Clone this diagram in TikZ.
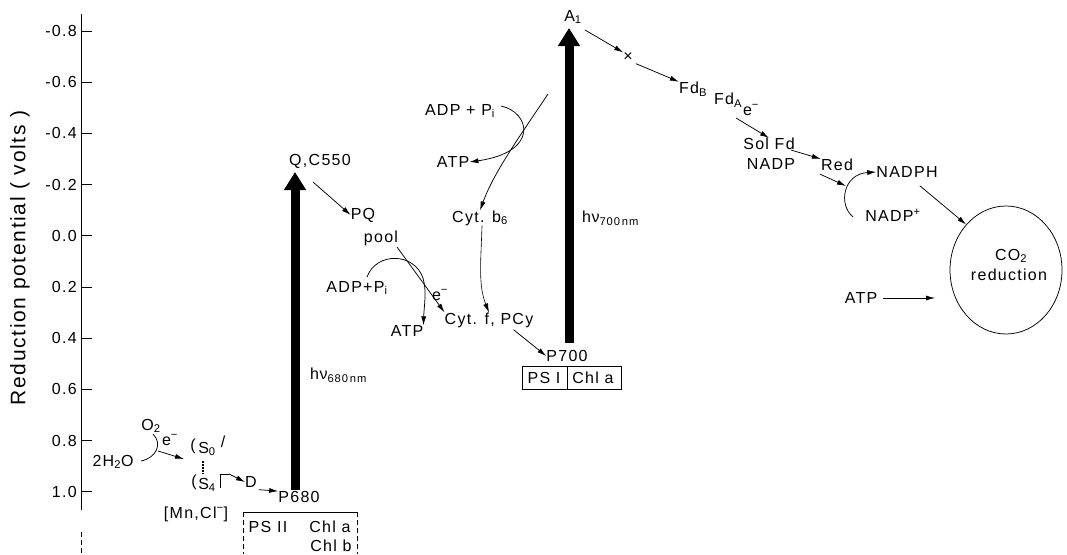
\documentclass[tikz,border=0pt]{standalone}
\usepackage{fontspec}
\setmainfont{Liberation Sans}[LetterSpace=8]
\usetikzlibrary{arrows.meta,shapes.geometric}
\begin{document}
\begin{tikzpicture}[x=1pt,y=-1pt,
  every node/.style={inner sep=0pt},
  font=\fontsize{16}{18}\selectfont,
  ln/.style={line width=0.75pt},
  arr/.style={line width=0.75pt,-{Latex[length=9pt,width=5pt]}},
  bigarr/.style={line width=9pt,-{Triangle[width=21pt,length=18pt]}},
  sidedash/.style={line width=0.75pt,dash pattern=on 5pt off 3pt}]
\useasboundingbox (0,0) rectangle (1067,554);

% axis
\draw[ln] (81,14) coordinate (axtop) -- (81,510) coordinate (axbot);
\draw[sidedash] (81,532) coordinate (axb2) -- (81,554) coordinate (axb3);
\foreach \t [count=\i from 0] in {-0.8,-0.6,-0.4,-0.2,0.0,0.2,0.4,0.6,0.8,1.0}{
  \pgfmathsetmacro\yy{31+51.2*\i}
  \draw[ln] (81,\yy) -- (92,\yy);
  \node[anchor=east,font=\fontsize{16}{18}\selectfont] (tl\i) at (77,\yy) {\t};
}
\node[rotate=90,font=\fontsize{21}{24}\selectfont] (ylab) at (20,258) {Reduction potential ( volts )};

% water splitting
\node (o2) at (151,426) {O\textsubscript{2}};
\node (h2o) at (113,462) {2H\textsubscript{2}O};
\coordinate (arcA) at (141,461);
\coordinate (arcB) at (153,434);
\draw[ln] (arcA) .. controls (156,458) and (163,444) .. (arcB);
\coordinate (e1s) at (158,451);
\coordinate (e1t) at (184,459);
\draw[arr] (e1s) -- (e1t);
\node (e1) at (170,440) {e\textsuperscript{−}};
\node (s0l) at (193,446) {(};
\node (s0) at (207,449) {S\textsubscript{0}};
\node (s0r) at (223,442) {/};
\node (s4l) at (194,482) {(};
\node (s4) at (207,485) {S\textsubscript{4}};
\draw[line width=1.3pt,dash pattern=on 1.5pt off 1.5pt] (203,461) -- (203,474);
\coordinate (brk) at (229,474);
\draw[ln] (220,488) -- (220,474) -- (brk);
\node (d) at (251,482) {D};
\draw[arr] (brk) -- (d.west);
\node (p680) at (299,497) {P680};
\draw[arr] (d.south east) ++(2,2) coordinate (dd) -- (p680.north west);
\node (mncl) at (196,514) {[Mn,Cl\textsuperscript{−}]};

% PS II box
\draw[ln] (243,512) coordinate (b2a) -- (357,512) coordinate (b2b);
\draw[sidedash] (b2a) -- (243,554);
\draw[sidedash] (b2b) -- (357,554);
\node (ps2) at (268,527) {PS II};
\node (chla2) at (330,527) {Chl a};
\node (chlb2) at (331,546) {Chl b};

% h nu 680
\coordinate (b680) at (295,490);
\coordinate (t680) at (295,172);
\draw[bigarr] (b680) -- (t680);
\node[anchor=west] (hv680) at (310,375) {h\kern0.5ptν\textsubscript{680\,nm}};
\node (qc) at (320,161) {Q,C550};

% PQ
\node (pq) at (363,215) {PQ};
\node (pool) at (381,238) {pool};
\draw[arr] (313,182) -- (pq.west);
\node (adp2) at (357,288) {ADP+P\textsubscript{i}};
\node (atp2) at (407,331) {ATP};
\node (e2) at (440,295) {e\textsuperscript{−}};
\node (cytf) at (489,320) {Cyt. f, PCy};
\draw[arr] (397,247) -- (cytf.north west);
\draw[arr] (367,277) .. controls (376,252) and (414,252) .. (423,278)
   .. controls (427,292) and (424,306) .. (atp2.north east);

% upper cyclic part
\node (adp1) at (460,111) {ADP + P\textsubscript{i}};
\node (atp1) at (453,162) {ATP};
\draw[arr] (501,106) .. controls (530,112) and (540,152) .. (atp1.east);
\node (cytb) at (480,218) {Cyt. b\textsubscript{6}};
\coordinate (cyc) at (548,94);
\draw[arr] (cyc) .. controls (520,136) and (494,172) .. (cytb.north);
\draw[arr,line width=0.6pt] (cytb.south) ++(2,0) coordinate (cb2) .. controls (481,260) and (478,285) .. (cytf.north);

% P700 and PS I
\node (p700) at (567,356) {P700};
\draw[arr] (cytf.south east) ++(-20,2) coordinate (cf2) -- (p700.west);
\draw[ln] (522,366) rectangle (621,389);
\draw[ln] (567,366) -- (567,389);
\node (ps1) at (544,378) {PS I};
\node (chla1) at (593,378) {Chl a};

% h nu 700
\coordinate (b700) at (569,343);
\coordinate (t700) at (569,28);
\draw[bigarr] (b700) -- (t700);
\node[anchor=west] (hv700) at (582,218) {h\kern0.5ptν\textsubscript{700\,nm}};
\node (a1) at (573,17) {A\textsubscript{1}};

% electron transport to NADP
\node (x) at (628,57) {×};
\draw[arr] (585,30) -- (x.north west);
\node (fdb) at (693,89) {Fd\textsubscript{B}};
\draw[arr] (x.south east) ++(3,2) coordinate (x2) -- (fdb.north west);
\node (fda) at (728,100) {Fd\textsubscript{A}};
\node (e3) at (751,110) {e\textsuperscript{−}};
\node (solfd) at (769,144) {Sol Fd};
\node (nadp) at (771,164) {NADP};
\draw[arr] (736,118) -- (solfd.north);
\node (red) at (837,165) {Red};
\draw[arr] (solfd.east) ++(-4,6) coordinate (sf2) -- (red.north west);
\coordinate (rarc) at (846,186);
\draw[arr] (red.south west) ++(-1,3) coordinate (rd2) -- (rarc);
\node (nadph) at (907,172) {NADPH};
\node (nadpp) at (893,215) {NADP\textsuperscript{+}};
\draw[arr] (nadpp.west) ++(-12,2) coordinate (np2) .. controls (838,205) and (843,174) .. (nadph.west);

% CO2 reduction
\node[ellipse,draw,line width=0.75pt,minimum width=112pt,minimum height=128pt] (co2c) at (1006,270) {};
\node (co2) at (1011,256) {CO\textsubscript{2}};
\node (redn) at (1009,275) {reduction};
\draw[arr] (nadph.south east) ++(-18,8) coordinate (nh2) -- (co2c.north west);
\node (atp3) at (861,298) {ATP};
\draw[arr] (atp3.east) ++(6,0) coordinate (at2) -- (935,298) coordinate (at3);
\end{tikzpicture}
\end{document}
